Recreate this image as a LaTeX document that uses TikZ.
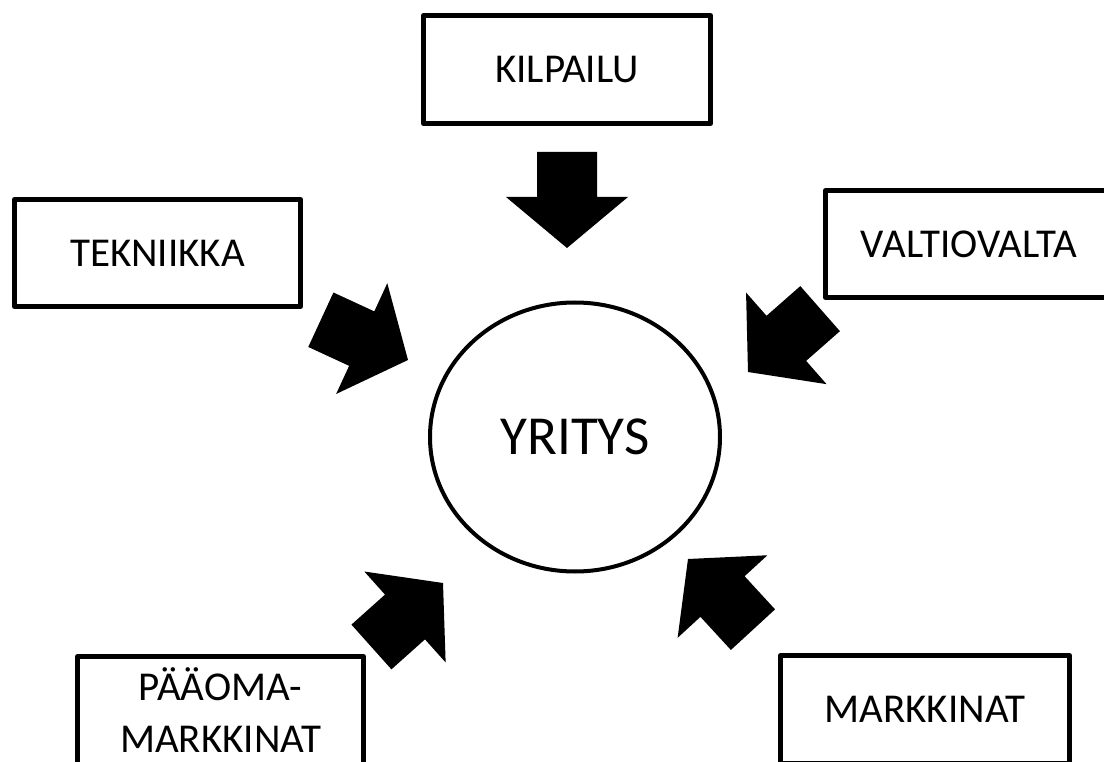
\documentclass[tikz,border=0pt]{standalone}
\usepackage{fontspec}
\setmainfont{Carlito}
\usetikzlibrary{shapes.geometric}
\begin{document}
\begin{tikzpicture}[x=1pt,y=-1pt,
  factor/.style={draw=black, line width=5pt, rectangle, line join=round,
    inner sep=0pt, minimum width=287pt, minimum height=108pt,
    font=\fontsize{41}{52}\selectfont, align=center},
  firm/.style={draw=black, line width=4pt, ellipse, inner sep=0pt,
    minimum width=290pt, minimum height=269pt,
    font=\fontsize{55}{60}\selectfont},
  blockarrow/.pic={
    \fill[black] (0,0) -- (-51,-61) -- (-51,-30) -- (-96,-30) -- (-96,30)
      -- (-51,30) -- (-51,61) -- cycle;
  }]
  \useasboundingbox (0,0) rectangle (1104,762);
  \fill[white] (0,0) rectangle (1104,762);
  \clip (0,0) rectangle (1104,762);

  % the firm in the middle
  \node[firm] (yritys) at (575,437) {YRITYS};

  % surrounding factors
  \node[factor] (kilpailu) at (567,69.5) {KILPAILU};
  \node[factor, minimum width=286pt, minimum height=107pt] (tekniikka) at (157.5,253) {TEKNIIKKA};
  \node[factor, minimum height=107pt] (valtio) at (969,244) {VALTIOVALTA};
  \node[factor, minimum width=286pt] (paaoma) at (220.5,710.5) {PÄÄOMA-\\MARKKINAT};
  \node[factor, minimum width=289pt] (markkinat) at (925,709.5) {MARKKINAT};

  % block arrows pushing towards the firm
  \pic[rotate=-90]    at (567,248) {blockarrow};
  \pic[rotate=-24.8]  at (408,360) {blockarrow};
  \pic[rotate=-138.7] at (748,372) {blockarrow};
  \pic[rotate=41.8]   at (443,583) {blockarrow};
  \pic[rotate=132.6]  at (688,559) {blockarrow};
\end{tikzpicture}
\end{document}
